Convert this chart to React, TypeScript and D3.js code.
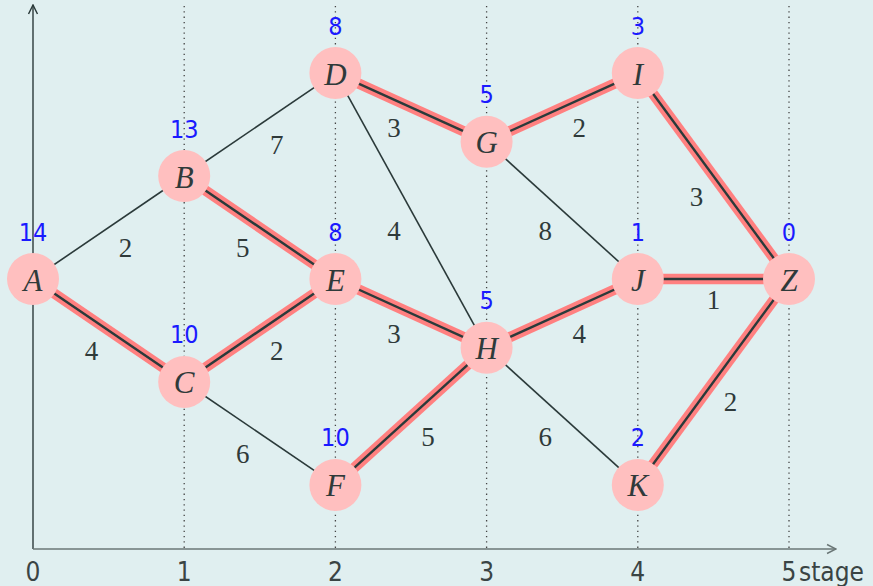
import React, { useEffect } from "react";
import * as d3 from "d3";

const stages = [0, 1, 2, 3, 4, 5];
const nodeIds = ["A", "B", "C", "D", "E", "F", "G", "H", "I", "J", "K", "Z"];
const nodeStage = [0, 1, 1, 2, 2, 2, 3, 3, 4, 4, 4, 5];
const nodeLevel = [0, 3, -3, 6, 0, -6, 4, -2, 6, 0, -6, 0];
const nodeCost = [14, 13, 10, 8, 8, 10, 5, 5, 3, 1, 2, 0];

const edgeFrom = ["A", "A", "B", "B", "C", "C", "D", "D", "E", "F", "G", "G", "H", "H", "I", "J", "K"];
const edgeTo = ["B", "C", "D", "E", "E", "F", "G", "H", "H", "H", "I", "J", "J", "K", "Z", "Z", "Z"];
const edgeWeight = [2, 4, 7, 5, 2, 6, 3, 4, 3, 5, 2, 8, 4, 6, 3, 1, 2];
const edgeOnPath = [false, true, false, true, true, false, true, false, true, true, true, false, true, false, true, true, true];

const W = 873;
const H = 586;

export default function App() {
  useEffect(() => {
    document.body.style.margin = "0";
  }, []);

  const x = d3.scaleLinear().domain([0, 5]).range([33, 789]);
  const y = d3.scaleLinear().domain([0, 8]).range([279, 4.4]);
  const axisY = 549;
  const r = 26;

  const pos: Record<string, [number, number]> = {};
  nodeIds.forEach((id, i) => {
    pos[id] = [x(nodeStage[i]), y(nodeLevel[i])];
  });

  const sansFont = "'DejaVu Sans Condensed', 'DejaVu Sans', sans-serif";
  const serifFont = "'Liberation Serif', 'DejaVu Serif', serif";
  const dark = "#2b3a3a";

  const edges = edgeFrom.map((f, i) => {
    const [x1, y1] = pos[f];
    const [x2, y2] = pos[edgeTo[i]];
    const dx = x2 - x1;
    const dy = y2 - y1;
    const len = Math.hypot(dx, dy);
    const nx = -dy / len;
    const ny = dx / len;
    const mx = (x1 + x2) / 2;
    const my = (y1 + y2) / 2;
    const ox = Math.abs(nx) > 0.2 ? Math.sign(nx) * 17 : 0;
    const oy = Math.sign(ny) * 19.5;
    return { x1, y1, x2, y2, lx: mx + ox, ly: my + oy, w: edgeWeight[i], hl: edgeOnPath[i] };
  });

  const condensed = { fontStretch: "condensed" } as React.CSSProperties;

  return (
    <svg width={W} height={H} style={{ display: "block", background: "#e0eff0" }}>
      <defs>
        <marker id="arr" viewBox="0 0 10 10" refX="9" refY="5" markerWidth="8" markerHeight="8" orient="auto">
          <path d="M1,1 L9,5 L1,9" fill="none" stroke={dark} strokeWidth="1.3" />
        </marker>
        <marker id="arrg" viewBox="0 0 10 10" refX="9" refY="5" markerWidth="8" markerHeight="8" orient="auto">
          <path d="M1,1 L9,5 L1,9" fill="none" stroke="#6b7777" strokeWidth="1.3" />
        </marker>
      </defs>
      {stages.slice(1).map((s) => (
        <line key={"g" + s} x1={x(s)} x2={x(s)} y1={6} y2={axisY} stroke="#444" strokeWidth={1.3} strokeDasharray="1.3 4" />
      ))}
      <line x1={x(0)} x2={x(0)} y1={axisY} y2={5} stroke={dark} strokeWidth={1.4} markerEnd="url(#arr)" />
      <line x1={x(0)} x2={836} y1={axisY} y2={axisY} stroke="#6b7777" strokeWidth={1.4} markerEnd="url(#arrg)" />
      {stages.map((s) => (
        <text key={"t" + s} x={x(s)} y={581} textAnchor="middle" fontFamily={sansFont} style={condensed} fontSize={26} fill="#3a4444">
          {s}
        </text>
      ))}
      <text x={799} y={581} fontFamily={sansFont} style={condensed} fontSize={26} fill="#3a4444">
        stage
      </text>
      {edges.map((e, i) =>
        e.hl ? (
          <line key={"h" + i} x1={e.x1} y1={e.y1} x2={e.x2} y2={e.y2} stroke="#ff8080" strokeWidth={10.5} />
        ) : null
      )}
      {edges.map((e, i) => (
        <line key={"e" + i} x1={e.x1} y1={e.y1} x2={e.x2} y2={e.y2} stroke={dark} strokeWidth={e.hl ? 2.4 : 1.6} />
      ))}
      {edges.map((e, i) => (
        <text key={"l" + i} x={e.lx} y={e.ly + 1} textAnchor="middle" dominantBaseline="central" fontFamily={serifFont} fontSize={27} fill="#2f3a3a">
          {e.w}
        </text>
      ))}
      {nodeIds.map((id, i) => (
        <g key={id}>
          <circle cx={pos[id][0]} cy={pos[id][1]} r={r} fill="#ffbfbf" />
          <text x={pos[id][0]} y={pos[id][1] + 1} textAnchor="middle" dominantBaseline="central" fontFamily={serifFont} fontStyle="italic" fontSize={31} fill="#2f3a3a">
            {id}
          </text>
          <text x={pos[id][0]} y={pos[id][1] - 47} textAnchor="middle" dominantBaseline="central" fontFamily={sansFont} style={condensed} fontSize={25} fill="#1a1aff">
            {nodeCost[i]}
          </text>
        </g>
      ))}
    </svg>
  );
}
